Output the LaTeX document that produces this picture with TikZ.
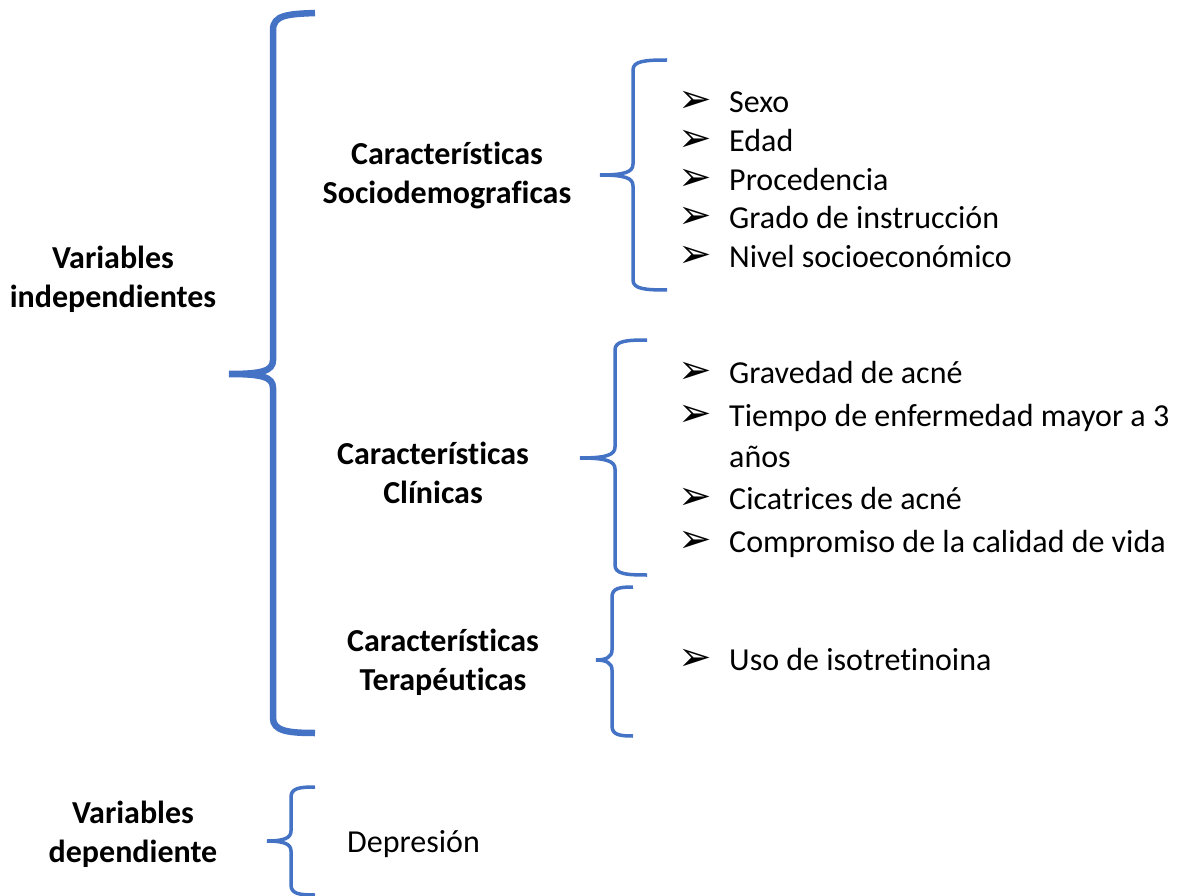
\documentclass[tikz,border=0pt]{standalone}
\usepackage{fontspec}
\setmainfont{Carlito}[Ligatures=NoCommon]
\newfontfamily\simbolos{DejaVu Sans}
\usepackage{tikz}
\usetikzlibrary{positioning}
\definecolor{azul}{HTML}{4472C4}

\begin{document}
\begin{tikzpicture}[x=1pt,y=-1pt,
		llave/.style={draw=azul,line width=3.5pt},
		llavegrande/.style={draw=azul,line width=6.5pt},
		titulo/.style={align=center,inner sep=0pt,font=\fontsize{32}{39}\selectfont\bfseries},
		item/.style={anchor=base west,inner sep=0pt,font=\fontsize{32}{39}\selectfont},
		flecha/.style={anchor=base west,inner sep=0pt,font=\simbolos\fontsize{40}{44}\selectfont}]
		\useasboundingbox (0,0) rectangle (1184,896);

		% titulos
		\node(indep) at (113,279) [titulo] {Variables\\independientes};
		\node(socio) at (447,175) [titulo] {Características\\Sociodemograficas};
		\node(clin) at (433,473) [titulo] {Características\\Clínicas};
		\node(terap) at (443,662) [titulo] {Características\\Terapéuticas};
		\node(dep) at (133,834) [titulo] {Variables\\dependiente};

		% llaves
		\path[llavegrande]
			(315,13) .. controls (288,14) and (273,15) .. (273,30) -- (273,360)
			.. controls (273,371) and (262,374) .. (229,374)
			.. controls (262,374) and (273,377) .. (273,388) -- (273,718)
			.. controls (273,731) and (288,733) .. (315,733);
		\path[llave]
			(667,60) .. controls (645,60) and (633,61) .. (633,70) -- (633,164)
			.. controls (633,172) and (625,175) .. (600,175)
			.. controls (625,175) and (633,178) .. (633,186) -- (633,280)
			.. controls (633,289) and (645,290) .. (667,290);
		\path[llave]
			(647,340) .. controls (626,340) and (615,341) .. (615,350) -- (615,447)
			.. controls (615,455) and (606,458) .. (580,458)
			.. controls (606,458) and (615,461) .. (615,469) -- (615,565)
			.. controls (615,574) and (626,575) .. (647,575);
		\path[llave]
			(633,587) .. controls (620,587) and (612,588) .. (612,597) -- (612,650)
			.. controls (612,657) and (606,660) .. (596,660)
			.. controls (606,660) and (612,663) .. (612,670) -- (612,726)
			.. controls (612,735) and (620,736) .. (633,736);
		\path[llave]
			(315,787) .. controls (300,787) and (291,788) .. (291,797) -- (291,831)
			.. controls (291,838) and (284,841) .. (267,841)
			.. controls (284,841) and (291,844) .. (291,851) -- (291,885)
			.. controls (291,894) and (300,895) .. (315,895);

		% sociodemograficas
		\node(f1) at (678,113) [flecha] {➢};
		\node(sexo) at (729,113) [item] {Sexo};
		\node(f2) at (678,152) [flecha] {➢};
		\node(edad) at (729,152) [item] {Edad};
		\node(f3) at (678,191) [flecha] {➢};
		\node(proc) at (729,191) [item] {Procedencia};
		\node(f4) at (678,229) [flecha] {➢};
		\node(grado) at (729,229) [item] {Grado de instrucción};
		\node(f5) at (678,268) [flecha] {➢};
		\node(nivel) at (729,268) [item] {Nivel socioeconómico};

		% clinicas
		\node(f6) at (678,383) [flecha] {➢};
		\node(grav) at (729,383) [item] {Gravedad de acné};
		\node(f7) at (678,426) [flecha] {➢};
		\node(tiempo) at (729,426) [item] {Tiempo de enfermedad mayor a 3};
		\node(anos) at (729,467) [item] {años};
		\node(f8) at (678,509) [flecha] {➢};
		\node(cicat) at (729,509) [item] {Cicatrices de acné};
		\node(f9) at (678,552) [flecha] {➢};
		\node(comp) at (729,552) [item] {Compromiso de la calidad de vida};

		% terapeuticas
		\node(f10) at (678,670) [flecha] {➢};
		\node(iso) at (729,670) [item] {Uso de isotretinoina};

		% dependiente
		\node(depre) at (347,852) [item] {Depresión};
	\end{tikzpicture}
\end{document}
